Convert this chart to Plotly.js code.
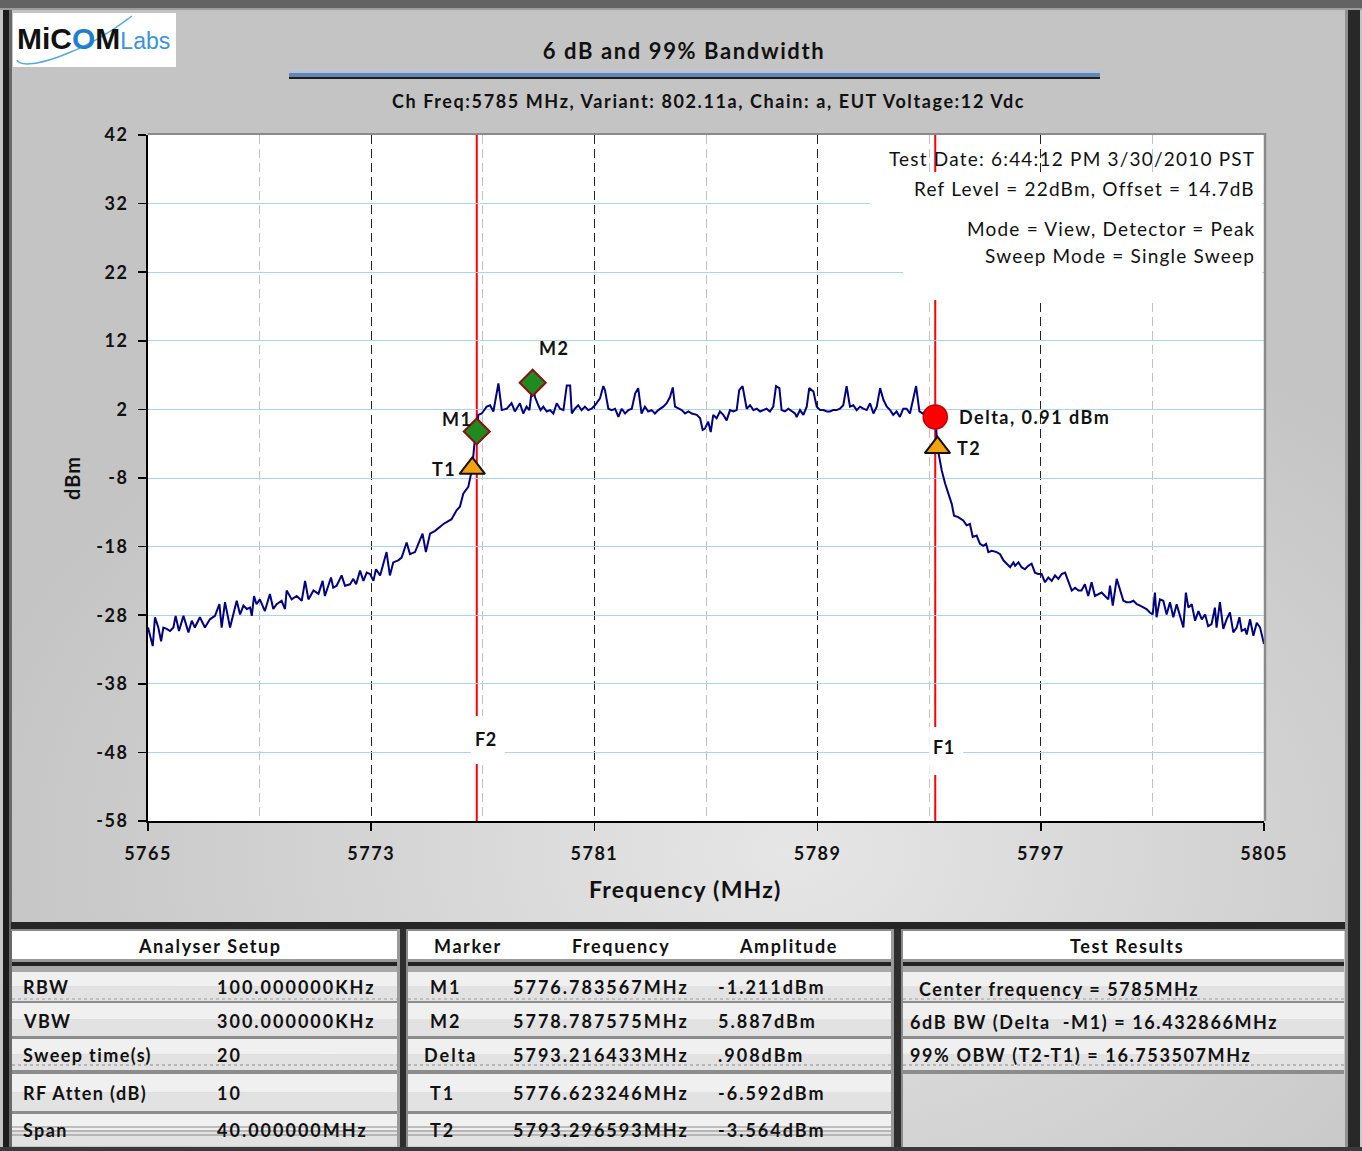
<!DOCTYPE html>
<html><head><meta charset="utf-8">
<script src="https://cdn.plot.ly/plotly-3.0.1.min.js"></script>
<style>
html,body{margin:0;padding:0;background:#c4c4c4;}
#chart{width:1362px;height:1151px;background:radial-gradient(ellipse 62% 50% at 58% 74%, #e6e6e6 0%, #d6d6d6 45%, #c4c4c4 100%);}
</style></head><body><div id="chart"></div>
<script>
// ---------------- DATA ----------------
const freqMHz = [
5765.00,5765.17,5765.25,5765.37,5765.47,5765.55,5765.67,5765.79,5765.91,5765.99,
5766.11,5766.27,5766.45,5766.57,5766.68,5766.86,5767.04,5767.22,5767.40,5767.56,
5767.64,5767.76,5767.94,5768.18,5768.30,5768.42,5768.54,5768.66,5768.72,5768.80,
5768.89,5769.01,5769.19,5769.37,5769.49,5769.61,5769.79,5769.91,5769.97,5770.15,
5770.33,5770.51,5770.63,5770.75,5770.93,5771.11,5771.26,5771.34,5771.56,5771.64,
5771.76,5771.94,5772.06,5772.24,5772.36,5772.46,5772.60,5772.72,5772.84,5772.96,
5773.08,5773.17,5773.32,5773.55,5773.67,5773.79,5773.97,5774.09,5774.27,5774.39,
5774.57,5774.84,5774.96,5775.11,5775.29,5775.59,5775.88,5776.06,5776.18,5776.30,
5776.48,5776.62,5776.70,5776.78,5776.84,5776.96,5777.14,5777.26,5777.38,5777.56,
5777.68,5777.86,5778.03,5778.15,5778.33,5778.45,5778.57,5778.67,5778.79,5778.87,
5778.99,5779.07,5779.17,5779.29,5779.41,5779.53,5779.65,5779.77,5779.89,5780.01,
5780.13,5780.19,5780.30,5780.42,5780.54,5780.66,5780.78,5780.90,5781.02,5781.20,
5781.32,5781.38,5781.50,5781.62,5781.74,5781.86,5781.98,5782.10,5782.22,5782.34,
5782.46,5782.57,5782.69,5782.81,5782.93,5783.05,5783.17,5783.29,5783.47,5783.59,
5783.71,5783.81,5783.89,5784.01,5784.13,5784.25,5784.37,5784.49,5784.67,5784.79,
5784.88,5784.96,5785.08,5785.17,5785.26,5785.38,5785.50,5785.62,5785.74,5785.86,
5785.98,5786.10,5786.19,5786.31,5786.46,5786.58,5786.70,5786.82,5786.94,5787.05,
5787.17,5787.29,5787.41,5787.51,5787.63,5787.71,5787.83,5787.95,5788.07,5788.19,
5788.25,5788.37,5788.49,5788.61,5788.70,5788.85,5788.97,5789.09,5789.21,5789.33,
5789.44,5789.56,5789.68,5789.80,5789.92,5790.04,5790.16,5790.28,5790.40,5790.52,
5790.64,5790.76,5790.88,5791.00,5791.12,5791.24,5791.36,5791.48,5791.60,5791.71,
5791.83,5791.95,5792.07,5792.19,5792.31,5792.43,5792.53,5792.65,5792.77,5792.91,
5793.03,5793.15,5793.22,5793.30,5793.45,5793.57,5793.69,5793.81,5793.89,5794.04,
5794.22,5794.34,5794.46,5794.56,5794.70,5794.82,5794.94,5795.04,5795.12,5795.24,
5795.42,5795.54,5795.66,5795.78,5795.90,5796.02,5796.08,5796.20,5796.31,5796.43,
5796.55,5796.67,5796.79,5796.91,5797.03,5797.15,5797.27,5797.39,5797.51,5797.63,
5797.75,5797.87,5797.99,5798.11,5798.23,5798.35,5798.46,5798.58,5798.70,5798.82,
5798.94,5799.06,5799.18,5799.30,5799.42,5799.48,5799.58,5799.72,5799.84,5799.96,
5800.08,5800.20,5800.32,5800.44,5800.56,5800.68,5800.79,5800.91,5801.01,5801.09,
5801.15,5801.27,5801.39,5801.51,5801.63,5801.75,5801.87,5801.99,5802.11,5802.20,
5802.29,5802.41,5802.53,5802.65,5802.77,5802.89,5803.00,5803.12,5803.24,5803.30,
5803.42,5803.54,5803.66,5803.78,5803.90,5804.02,5804.12,5804.20,5804.32,5804.38,
5804.50,5804.62,5804.74,5804.86,5805.00
];
const levelDBm = [
-29.8,-32.5,-28.3,-29.8,-31.8,-29.8,-30.0,-30.3,-29.8,-28.1,
-30.3,-28.1,-30.5,-28.8,-29.8,-28.3,-29.8,-28.6,-28.1,-26.4,
-29.8,-26.1,-29.8,-25.9,-27.9,-26.6,-27.1,-26.9,-28.1,-25.2,
-26.4,-25.7,-27.4,-24.9,-27.1,-26.4,-25.9,-27.1,-24.4,-25.7,
-25.2,-25.9,-23.0,-25.7,-24.4,-24.9,-23.0,-25.2,-22.5,-24.0,
-23.7,-22.2,-23.7,-23.5,-22.7,-23.5,-21.5,-23.0,-21.8,-22.0,
-23.0,-21.3,-22.2,-18.8,-22.2,-20.3,-20.0,-19.6,-17.4,-19.1,
-18.8,-16.1,-18.8,-16.1,-15.7,-14.7,-14.0,-12.7,-12.2,-10.3,
-9.3,-6.6,-3.0,-1.2,1.2,1.4,2.4,2.6,1.7,5.8,
1.9,2.1,2.9,1.7,2.9,1.4,2.4,1.9,5.9,3.8,
2.6,1.9,2.4,1.7,1.9,1.4,2.9,2.1,1.9,5.5,
5.5,1.4,2.1,2.6,1.9,2.4,1.9,2.1,2.6,3.6,
5.4,4.8,2.1,1.9,2.1,0.9,2.1,1.4,1.9,2.1,
4.3,5.1,1.4,2.4,1.7,1.9,1.4,1.9,2.4,2.9,
3.8,5.2,2.4,2.1,1.9,1.4,1.7,1.4,1.2,0.7,
-1.0,-0.8,0.2,-1.3,1.2,0.7,1.7,1.2,0.4,1.9,
1.7,1.9,4.8,5.4,2.1,2.6,1.9,2.1,1.7,1.9,
2.1,1.7,2.4,5.4,5.1,1.9,1.7,2.1,1.7,1.4,
0.9,1.9,1.2,2.4,5.1,4.6,2.4,1.9,1.9,1.7,
1.7,1.9,1.9,2.1,2.6,5.4,2.4,2.6,1.9,2.4,
2.1,1.9,2.9,1.4,2.4,5.1,3.4,2.4,1.9,1.2,
1.7,0.9,2.1,2.1,1.4,3.8,5.4,1.7,1.4,1.9,
1.4,1.7,0.9,-3.6,-6.9,-8.8,-10.3,-11.8,-13.5,-13.7,
-14.2,-14.9,-14.7,-16.6,-16.4,-17.6,-17.9,-17.6,-18.8,-18.6,
-18.8,-19.1,-20.0,-20.5,-21.0,-20.3,-20.8,-20.3,-21.0,-21.3,
-20.8,-20.5,-21.8,-22.0,-22.0,-23.2,-22.5,-23.0,-22.2,-22.7,
-22.0,-21.8,-23.0,-24.4,-24.0,-24.4,-24.4,-23.5,-25.2,-23.2,
-25.2,-24.9,-24.7,-25.2,-25.7,-23.7,-26.6,-22.7,-24.4,-25.9,
-26.1,-26.1,-25.9,-26.4,-26.6,-26.9,-27.1,-27.6,-27.9,-24.7,
-28.3,-25.7,-25.9,-27.9,-26.1,-28.3,-26.4,-28.1,-29.8,-24.7,
-26.9,-26.4,-28.8,-27.4,-28.6,-27.9,-29.6,-29.3,-26.9,-29.8,
-26.1,-30.0,-28.6,-27.6,-30.5,-29.8,-28.3,-30.3,-30.0,-30.8,
-28.6,-31.0,-29.1,-29.8,-32.2
];
const markerNames = ['M1','M2','Delta','T1','T2'];
const markerFreqMHz = [5776.783567, 5778.787575, 5793.216433, 5776.623246, 5793.296593];
const markerAmpDBm = [-1.211, 5.887, 0.908, -6.592, -3.564];
const markerFreqText = ['5776.783567MHz','5778.787575MHz','5793.216433MHz','5776.623246MHz','5793.296593MHz'];
const markerAmpText = ['-1.211dBm','5.887dBm','.908dBm','-6.592dBm','-3.564dBm'];
const setupLabels = ['RBW','VBW','Sweep time(s)','RF Atten (dB)','Span'];
const setupValues = ['100.000000KHz','300.000000KHz','20','10','40.000000MHz'];
const resultLines = ['Center frequency = 5785MHz','6dB BW (Delta  -M1) = 16.432866MHz','99% OBW (T2-T1) = 16.753507MHz'];
const infoLines = ['Test Date: 6:44:12 PM 3/30/2010 PST','Ref Level = 22dBm, Offset = 14.7dB','Mode = View, Detector = Peak','Sweep Mode = Single Sweep'];
const xTicks = [5765,5773,5781,5789,5797,5805];
const xMinorGrid = [5769,5777,5785,5793,5801];
const yTicks = [42,32,22,12,2,-8,-18,-28,-38,-48,-58];
const titleText = '6 dB and 99% Bandwidth';
const subtitleText = 'Ch Freq:5785 MHz, Variant: 802.11a, Chain: a, EUT Voltage:12 Vdc';
const xTitleText = 'Frequency (MHz)';
const yTitleText = 'dBm';

// ---------------- LAYOUT HELPERS ----------------
const FONT = 'Lato, "Open Sans", sans-serif';
const PL=148, PR=1264, PT=135, PB=821;
const px = v => (v-PL)/(PR-PL);
const py = v => (PB-v)/(PB-PT);
const sp = (s, ls) => `<span style="letter-spacing:${ls}px">${s}</span>`;
const shapes=[], annotations=[];
function box(x0,y0,x1,y1,fill,layer){
  shapes.push({type:'rect',xref:'paper',yref:'paper',x0:px(x0),x1:px(x1),y0:py(y1),y1:py(y0),
    fillcolor:fill,line:{width:0},layer:layer||'above'});
}
function hl(x0,x1,y,color,w,dash){
  shapes.push({type:'line',xref:'paper',yref:'paper',x0:px(x0),x1:px(x1),y0:py(y),y1:py(y),
    line:{color:color,width:w,dash:dash||'solid'},layer:'above'});
}
function txt(x,y,s,o){
  o=o||{};
  annotations.push({xref:'paper',yref:'paper',x:px(x),y:py(y),
    text: o.ls ? sp(s,o.ls) : s, showarrow:false, xanchor:o.anchor||'left', yanchor:'middle',
    textangle:o.angle||0,
    font:{family:o.family||FONT,size:o.size||18,weight:o.bold===false?'normal':'bold',color:o.color||'#111'}});
}

// outer frame
box(0,0,1362,8,'#555555'); box(0,8,1362,10,'#9c9c9c');
for(let k=1;k<8;k+=2) hl(0,1362,k,'#7a7a7a',0.8);
box(3,10,9,1151,'#1c1c1c'); box(9,10,12,1151,'#6a6a6a');
box(1345,10,1348,1151,'#909090'); box(1348,10,1360,1151,'#282828');
box(0,1147,1362,1151,'#3a3a3a');

// logo
box(13,13,176,67,'#ffffff');
shapes.push({type:'path',xref:'paper',yref:'paper',layer:'above',
  path:`M ${px(17)} ${py(60)} C ${px(22)} ${py(72)}, ${px(80)} ${py(56)}, ${px(132)} ${py(16)}`,
  line:{color:'#5aa8e0',width:1.5}});
annotations.push({xref:'paper',yref:'paper',x:px(15),y:py(39),xanchor:'left',yanchor:'middle',showarrow:false,
  text:'<b>MiC</b><b><span style="color:#1f7fd0">O</span></b><b>M</b><span style="color:#3b93dc;font-size:23px">Labs</span>',
  font:{family:'"Liberation Sans", Arial, sans-serif',size:30,color:'#111'}});

// title underline + subtitle
box(289,71,1100,73,'#a9c6e8'); box(289,73,1100,77,'#6486b0'); box(289,77,1100,79,'#1e1e1e');
txt(708,101,subtitleText,{anchor:'center',size:18,ls:1.6});

// axis titles
txt(685,889,xTitleText,{anchor:'center',size:23,ls:1.2});
txt(72,478,yTitleText,{anchor:'center',size:20,ls:1,angle:-90});

// plot frame (top / right grey borders)
hl(148,1266,134,'#8a8a8a',2);
shapes.push({type:'line',xref:'paper',yref:'paper',x0:px(1265),x1:px(1265),y0:py(821),y1:py(133),line:{color:'#8a8a8a',width:2.5},layer:'above'});

// info box (white backgrounds covering grid)
box(870,172,1262,214,'#ffffff'); box(903,214,1262,300,'#ffffff');
const infoY=[159,188,229,256];
infoLines.forEach((s,i)=>txt(1257,infoY[i],s,{anchor:'right',size:19,bold:false,ls:1.2}));

// F lines (F2 at M1 frequency, F1 at Delta frequency)
const fLines = [{name:'F2',f:markerFreqMHz[0],box:[716,764],ty:739},{name:'F1',f:markerFreqMHz[2],box:[727,775],ty:747}];
fLines.forEach(F=>{
  shapes.push({type:'line',xref:'x',yref:'paper',x0:F.f,x1:F.f,y0:0,y1:1,line:{color:'#ff0000',width:2},layer:'below'});
  shapes.push({type:'rect',xref:'x',xsizemode:'pixel',xanchor:F.f,x0:-6,x1:28,yref:'paper',y0:py(F.box[1]),y1:py(F.box[0]),
    fillcolor:'#ffffff',line:{width:0},layer:'above'});
  annotations.push({xref:'x',yref:'paper',x:F.f,xshift:9,y:py(F.ty),text:sp(F.name,0.5),showarrow:false,xanchor:'center',yanchor:'middle',
    font:{family:FONT,size:18,weight:'bold',color:'#111'}});
});

// marker labels
const lblStyle = {dx:[-20,21,22,-28,32], dy:[12,35,0,-1,0], anchor:['center','center','left','center','center']};
markerNames.forEach((n,i)=>{
  const t = n==='Delta' ? `Delta, ${markerAmpDBm[i].toFixed(2)} dBm` : n;
  annotations.push({xref:'x',yref:'y',x:markerFreqMHz[i],y:markerAmpDBm[i],xshift:lblStyle.dx[i],yshift:lblStyle.dy[i],
    text:sp(t,1.5),showarrow:false,xanchor:lblStyle.anchor[i],yanchor:'middle',font:{family:FONT,size:18,weight:'bold',color:'#111'}});
});

// ---------------- TABLES ----------------
box(11,922,1345,929,'#262626'); box(11,929,1345,931,'#8a8a8a');
const panels=[[12,397],[408,891],[903,1344]];
[[397,408],[891,903]].forEach(([a,b])=>{ box(a,929,a+3,1147,'#9a9a9a'); box(a+3,929,b-2,1147,'#2e2e2e'); box(b-2,929,b,1147,'#8a8a8a'); });
const rowBounds=[[972,1001],[1003,1036],[1039,1070],[1074,1111],[1114,1146]];
panels.forEach(([a,b],pi)=>{
  box(a,931,b,959,'#ffffff');
  box(a,959,b,962,'#9a9a9a'); box(a,962,b,966,'#222222'); box(a,966,b,972,'#a8a8a8');
  const nRows = pi===2 ? 3 : 5;
  for(let r=0;r<nRows;r++){
    const [y0,y1]=rowBounds[r];
    box(a,y0,b,(y0+y1)/2,'#f0f0f0'); box(a,(y0+y1)/2,b,y1,'#e2e2e2');
    if(r<4) box(a,y1,b,rowBounds[r+1][0],'#8c8c8c');
  }
  if(pi===2){ box(a,1070,b,1074,'#8c8c8c'); }
  hl(a,b,999,'#9a9a9a',1,'dot'); hl(a,b,1065,'#8a8a8a',1,'dot');
  if(pi<2){ hl(a,b,1127,'#8a8a8a',1); hl(a,b,1131,'#8a8a8a',1); hl(a,b,1135,'#8a8a8a',1); }
});
const rowY=[987,1021,1055,1093,1130];
const TS={size:18,ls:2};
txt(210,946,'Analyser Setup',{anchor:'center',size:18,ls:1.6});
txt(468,946,'Marker',{anchor:'center',size:18,ls:1.6});
txt(621,946,'Frequency',{anchor:'center',size:18,ls:1.6});
txt(788,946,'Amplitude',{anchor:'center',size:18,ls:1.6});
txt(1127,946,'Test Results',{anchor:'center',size:18,ls:1.6});
setupLabels.forEach((s,i)=>{ txt(21,rowY[i],s,{size:18,ls:1.4}); txt(215,rowY[i],setupValues[i],TS); });
markerNames.forEach((s,i)=>{ txt(s==='Delta'?422:428,rowY[i],s,TS); txt(511,rowY[i],markerFreqText[i],TS); txt(716,rowY[i],markerAmpText[i],TS); });
const resY=[989,1022,1055], resX=[917,908,908];
resultLines.forEach((s,i)=>txt(resX[i],resY[i],s,{size:18,ls:1.6}));

// ---------------- TRACES ----------------
const mIdx=[0,1], dIdx=[2], tIdx=[3,4];
const pick=(arr,idx)=>idx.map(i=>arr[i]);
const traces=[
  {type:'scatter',mode:'lines',x:freqMHz,y:levelDBm,line:{color:'#000080',width:2},hoverinfo:'skip',showlegend:false},
  {type:'scatter',mode:'markers',x:pick(markerFreqMHz,mIdx),y:pick(markerAmpDBm,mIdx),
   marker:{symbol:'diamond',size:20,color:'#1f8a1f',line:{color:'#8b1010',width:2}},showlegend:false},
  {type:'scatter',mode:'markers',x:pick(markerFreqMHz,dIdx),y:pick(markerAmpDBm,dIdx),
   marker:{symbol:'circle',size:24,color:'#ff0000',line:{color:'#c00000',width:1.5}},showlegend:false},
  {type:'scatter',mode:'markers',x:pick(markerFreqMHz,tIdx),y:pick(markerAmpDBm,tIdx),
   marker:{symbol:'triangle-up',size:22,color:'#f5a20f',line:{color:'#111',width:2}},showlegend:false}
];

const tickFont={family:FONT,size:18,weight:'bold',color:'#111'};
const layout={
  width:1362,height:1151,
  margin:{l:PL,r:1362-PR,t:PT,b:1151-PB,pad:0},
  paper_bgcolor:'rgba(0,0,0,0)',plot_bgcolor:'#ffffff',
  showlegend:false,hovermode:false,
  title:{text:sp(titleText,1.6),x:684/1362,xref:'container',xanchor:'center',y:1-51/1151,yref:'container',yanchor:'middle',
    font:{family:FONT,size:22,weight:'bold',color:'#111'}},
  xaxis:{range:[5765,5805],tickmode:'array',tickvals:xTicks,ticktext:xTicks.map(v=>sp(String(v),1.5)),
    ticks:'outside',ticklen:8,tickwidth:1.5,tickcolor:'#000',ticklabelstandoff:7,
    showline:true,linecolor:'#000',linewidth:2,zeroline:false,
    showgrid:true,gridcolor:'#222222',gridwidth:1,griddash:'9px,5px',
    minor:{tickmode:'array',tickvals:xMinorGrid,showgrid:true,gridcolor:'#c2c2c2',gridwidth:1,griddash:'9px,5px',ticks:''},
    tickfont:tickFont,fixedrange:true},
  yaxis:{range:[-58,42],tickmode:'array',tickvals:yTicks,ticktext:yTicks.map(v=>sp(String(v),1.5)),
    ticks:'outside',ticklen:8,tickwidth:1.5,tickcolor:'#000',ticklabelstandoff:6,
    showline:true,linecolor:'#000',linewidth:2,zeroline:false,
    showgrid:true,gridcolor:'#abd2f7',gridwidth:1,
    tickfont:tickFont,fixedrange:true},
  shapes:shapes,annotations:annotations
};
Plotly.newPlot('chart',traces,layout,{displayModeBar:false,staticPlot:true});
</script></body></html>
